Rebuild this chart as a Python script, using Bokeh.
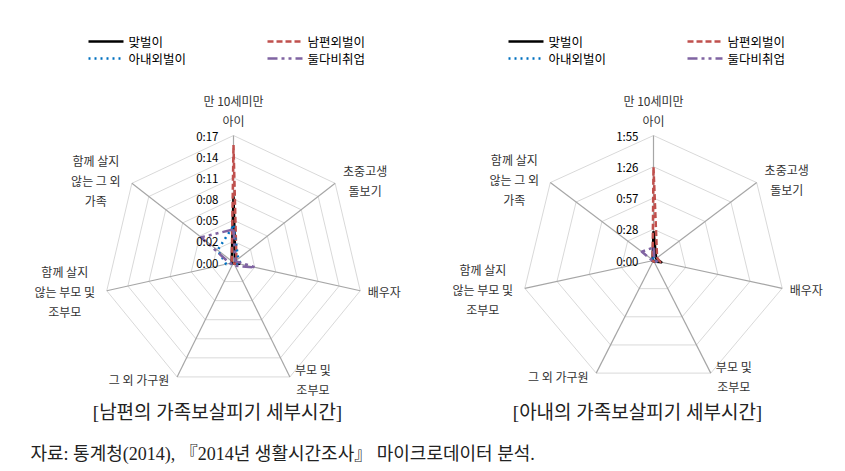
import numpy as np
from bokeh.plotting import figure
from bokeh.models import Range1d
from bokeh.core.properties import value
from bokeh.embed import file_html
from bokeh.resources import INLINE

# ---------------- data (minutes) ----------------
categories = [
    ["만 10세미만", "아이"],
    ["초중고생", "돌보기"],
    ["배우자"],
    ["부모 및", "조부모"],
    ["그 외 가구원"],
    ["함께 살지", "않는 부모 및", "조부모"],
    ["함께 살지", "않는 그 외", "가족"],
]
series_names = ["맞벌이", "남편외벌이", "아내외벌이", "둘다비취업"]

# husband's detailed care time (minutes)
husband_dual = [9.0, 0.3, 0.8, 0.2, 0.1, 0.2, 0.3]
husband_male_earner = [16.0, 0.5, 0.5, 0.2, 0.1, 0.3, 0.3]
husband_female_earner = [5.0, 0.8, 1.0, 0.3, 0.2, 1.0, 2.7]
husband_none = [4.5, 0.3, 3.0, 0.5, 0.2, 0.5, 5.5]

# wife's detailed care time (minutes)
wife_dual = [27.0, 3.0, 7.0, 1.0, 0.5, 1.0, 1.0]
wife_male_earner = [86.0, 4.0, 6.0, 1.0, 0.5, 1.0, 1.0]
wife_female_earner = [4.0, 2.0, 3.0, 1.0, 0.5, 1.0, 1.0]
wife_none = [12.0, 1.0, 3.0, 2.0, 0.5, 1.0, 13.0]

left_ticks = [0, 2.88, 5.76, 8.64, 11.52, 14.4, 17.28]
left_tick_labels = ["0:00", "0:02", "0:05", "0:08", "0:11", "0:14", "0:17"]
right_ticks = [0, 28.8, 57.6, 86.4, 115.2]
right_tick_labels = ["0:00", "0:28", "0:57", "1:26", "1:55"]

chart_titles = ["[남편의 가족보살피기 세부시간]", "[아내의 가족보살피기 세부시간]"]
source_note = "자료: 통계청(2014), 『2014년 생활시간조사』 마이크로데이터 분석."

# ---------------- styles ----------------
KFONT = value("Noto Sans CJK KR")
SFONT = value("Liberation Serif, Noto Sans CJK KR")
styles = [
    dict(line_color="#000000", line_width=2.5, line_dash="solid"),
    dict(line_color="#C0504D", line_width=2.5, line_dash="6 3"),
    dict(line_color="#0070C0", line_width=2.5, line_dash="2 4"),
    dict(line_color="#8064A2", line_width=2.5, line_dash="10 4 3 4 3 4"),
]

p = figure(width=845, height=471, x_range=Range1d(0, 845), y_range=Range1d(471, 0),
           output_backend="svg", toolbar_location=None,
           x_axis_type=None, y_axis_type=None, min_border=0)
p.grid.visible = False
p.outline_line_color = None
p.background_fill_color = "white"

n = len(categories)
angles = np.deg2rad(90 - np.arange(n) * 360.0 / n)
label_offsets = [(0, -25), (30, -3), (24, 1), (23, 3), (-38, 3), (-42, 1), (-36, -3)]
line_h = 20


def radar(cx, cy, rx, ry, ticks, tick_labels, data, legend_x):
    vmax = ticks[-1]
    # rings
    for t in ticks[1:]:
        f = t / vmax
        xs = list(cx + rx * f * np.cos(angles)) + [cx + rx * f * np.cos(angles[0])]
        ys = list(cy - ry * f * np.sin(angles)) + [cy - ry * f * np.sin(angles[0])]
        p.line(xs, ys, line_color="#d9d9d9", line_width=1)
    # spokes
    for a in angles:
        p.line([cx, cx + rx * np.cos(a)], [cy, cy - ry * np.sin(a)], line_color="#a6a6a6", line_width=1.2)
    # series
    for vals, st in zip(data, styles):
        v = np.array(vals) / vmax
        xs = list(cx + rx * v * np.cos(angles)) + [cx + rx * v[0] * np.cos(angles[0])]
        ys = list(cy - ry * v * np.sin(angles)) + [cy - ry * v[0] * np.sin(angles[0])]
        p.line(xs, ys, line_join="round", **st)
    # tick labels
    ty = [cy - ry * t / vmax for t in ticks]
    p.text(x=[cx - 15] * len(ticks), y=ty, text=tick_labels, text_font=KFONT,
           text_font_size="11.5px", text_align="right", text_baseline="middle", text_color="#000000")
    # category labels
    lx, ly, lt = [], [], []
    for i, lines in enumerate(categories):
        vx = cx + rx * np.cos(angles[i]) + label_offsets[i][0]
        vy = cy - ry * np.sin(angles[i]) + label_offsets[i][1]
        k = len(lines)
        for j, s in enumerate(lines):
            lx.append(vx)
            ly.append(vy + (j - (k - 1) / 2) * line_h)
            lt.append(s)
    p.text(x=lx, y=ly, text=lt, text_font=KFONT, text_font_size="12px",
           text_align="center", text_baseline="middle", text_color="#333333")
    # legend
    pos = [(legend_x, 41), (legend_x + 179, 41), (legend_x, 58), (legend_x + 179, 58)]
    for (x0, y0), st, name in zip(pos, styles, series_names):
        p.line([x0, x0 + 35], [y0, y0], **st)
        p.text(x=[x0 + 40], y=[y0], text=[name], text_font=KFONT, text_font_size="12.5px",
               text_align="left", text_baseline="middle", text_color="#000000")


radar(233, 262, 130, 127, left_ticks, left_tick_labels,
      [husband_dual, husband_male_earner, husband_female_earner, husband_none], 88)
radar(653, 260, 132, 125, right_ticks, right_tick_labels,
      [wife_dual, wife_male_earner, wife_female_earner, wife_none], 508)

p.text(x=[217, 637], y=[412, 412], text=chart_titles, text_font=SFONT, text_font_size="19px",
       text_align="center", text_baseline="middle", text_color="#222222")
p.text(x=[30], y=[453], text=[source_note], text_font=SFONT, text_font_size="18px",
       text_align="left", text_baseline="middle", text_color="#222222")

open("out.html", "w").write(file_html(p, INLINE))
